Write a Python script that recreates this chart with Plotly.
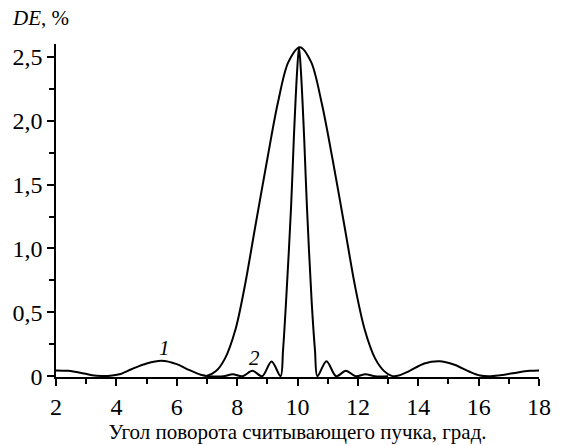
import plotly.graph_objects as go

# Curve 1 (wide)
x1 = [2.0, 2.4, 2.8, 3.2, 3.5, 3.8, 4.1, 4.5, 5.0, 5.5, 6.0, 6.4, 6.8, 7.0, 7.3,
      7.6, 7.95, 8.25, 8.6, 9.0, 9.35, 9.7, 10.08, 10.45, 10.8, 11.16, 11.56, 11.91,
      12.22, 12.57, 12.87, 13.12, 13.35, 13.7, 14.2, 14.7, 15.2, 15.7, 16.05, 16.4,
      16.8, 17.3, 17.7, 18.0]
y1 = [0.045, 0.042, 0.028, 0.008, 0.002, 0.004, 0.015, 0.055, 0.10, 0.121, 0.095,
      0.05, 0.012, 0.003, 0.04, 0.14, 0.37, 0.70, 1.17, 1.70, 2.14, 2.46, 2.575,
      2.46, 2.14, 1.70, 1.17, 0.70, 0.37, 0.14, 0.04, 0.003, 0.005, 0.04, 0.10,
      0.118, 0.09, 0.035, 0.005, 0.0, 0.01, 0.03, 0.042, 0.045]

# Curve 2 (narrow)
x2 = [7.0, 7.55, 7.85, 8.18, 8.51, 8.83, 9.14, 9.44, 9.52, 9.62, 9.79, 9.88, 9.985,
      10.05, 10.115, 10.22, 10.31, 10.47, 10.58, 10.66, 10.96, 11.28, 11.6, 11.93,
      12.25, 12.57, 13.0]
y2 = [0.0, 0.0, 0.016, 0.0, 0.042, 0.0, 0.115, 0.0, 0.2, 0.58, 1.34, 1.87, 2.38,
      2.575, 2.38, 1.87, 1.34, 0.58, 0.2, 0.0, 0.118, 0.0, 0.042, 0.0, 0.016, 0.0, 0.0]

x_ticks = [2, 4, 6, 8, 10, 12, 14, 16, 18]
x_ticklabels = ["2", "4", "6", "8", "10", "12", "14", "16", "18"]
y_ticks = [0, 0.5, 1.0, 1.5, 2.0, 2.5]
y_ticklabels = ["0", "0,5", "1,0", "1,5", "2,0", "2,5"]

font_family = "Times New Roman, Liberation Serif, serif"

fig = go.Figure()
fig.add_trace(go.Scatter(x=x1, y=y1, mode="lines",
                         line=dict(color="black", width=2, shape="spline", smoothing=0.9),
                         showlegend=False))
fig.add_trace(go.Scatter(x=x2, y=y2, mode="lines",
                         line=dict(color="black", width=2, shape="spline", smoothing=0.9),
                         showlegend=False))

fig.add_annotation(x=5.58, y=0.22, text="<i>1</i>", showarrow=False,
                   font=dict(family=font_family, size=21, color="black"))
fig.add_annotation(x=8.58, y=0.14, text="<i>2</i>", showarrow=False,
                   font=dict(family=font_family, size=21, color="black"))

fig.add_annotation(xref="paper", yref="paper", x=-0.095, y=1.035, xanchor="left", yanchor="bottom",
                   text="<i>DE</i>, %", showarrow=False,
                   font=dict(family=font_family, size=21, color="black"))

fig.update_layout(
    width=563, height=446,
    margin=dict(l=55, r=18, t=44, b=58),
    paper_bgcolor="white", plot_bgcolor="white",
    font=dict(family=font_family, size=20, color="black"),
    xaxis=dict(range=[2, 18], tickvals=x_ticks, ticktext=x_ticklabels,
               ticks="outside", ticklen=7, tickwidth=1.5, tickcolor="black",
               showline=True, linecolor="black", linewidth=1.5, showgrid=False, zeroline=False,
               minor=dict(dtick=1, ticks="outside", ticklen=5, tickwidth=1.5, tickcolor="black"),
               title=dict(text="Угол поворота считывающего пучка, град.", standoff=0,
                          font=dict(family=font_family, size=21)),
               tickfont=dict(family=font_family, size=24)),
    yaxis=dict(range=[-0.006, 2.6], tickvals=y_ticks, ticktext=y_ticklabels,
               ticks="outside", ticklen=7, tickwidth=1.5, tickcolor="black",
               showline=True, linecolor="black", linewidth=1.5, showgrid=False, zeroline=False,
               minor=dict(dtick=0.25, tick0=0, ticks="outside", ticklen=5, tickwidth=1.5, tickcolor="black"),
               tickfont=dict(family=font_family, size=24)),
)

fig.write_html("out.html")
